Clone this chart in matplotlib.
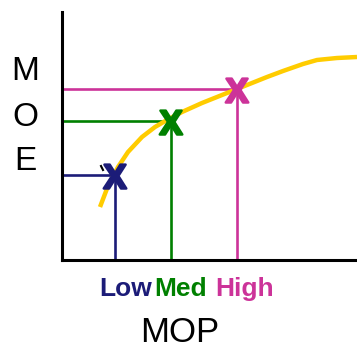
import matplotlib
matplotlib.use("Agg")
import matplotlib.pyplot as plt
import matplotlib.patheffects as pe

plt.rcParams['font.family'] = ['Liberation Sans', 'DejaVu Sans']

# data units ~ pixels from the axes origin
curve_x = [38, 46, 56, 66, 80, 93, 105, 120, 140, 160, 175, 190, 205, 221, 241, 255, 275, 295]
curve_y = [53, 74, 93, 108, 123, 133, 140, 148, 157, 165, 171, 177, 183, 189, 196, 200, 202, 203]

levels = ['Low', 'Med', 'High']
pt_x = [53, 109, 175]
pt_y = [85, 139, 171]
label_x = [64, 119, 183]
colors = ['#1c1c78', '#008000', '#cc3399']

fig = plt.figure(figsize=(3.57, 3.5), dpi=100)
ax = fig.add_axes([62 / 357, 90 / 350, 295 / 357, 248 / 350])
ax.set_xlim(0, 295)
ax.set_ylim(0, 248)

ax.plot(curve_x, curve_y, color='#ffcc00', lw=3.2, solid_capstyle='butt',
        solid_joinstyle='round', zorder=2)

for name, x, y, lx, c in zip(levels, pt_x, pt_y, label_x, colors):
    ax.plot([0, x], [y, y], color=c, lw=1.9, zorder=1)
    ax.plot([x, x], [0, y], color=c, lw=1.9, zorder=1)
    ax.text(x, y - 4, 'X', color=c, fontsize=25, fontweight='bold',
            ha='center', va='center', zorder=3,
            path_effects=[pe.withStroke(linewidth=1.8, foreground=c)])
    ax.text(lx, -29, name, color=c, fontsize=19, fontweight='bold',
            ha='center', va='center', clip_on=False)

# small stray mark next to the low point
ax.plot([39, 41], [94, 90], color='black', lw=1.5)

for s in ['top', 'right']:
    ax.spines[s].set_visible(False)
for s in ['left', 'bottom']:
    ax.spines[s].set_linewidth(2.2)
ax.set_xticks([])
ax.set_yticks([])

fig.text(180 / 357, 1 - 333 / 350, 'MOP', fontsize=25, ha='center', va='center')
for letter, yp in zip(['M', 'O', 'E'], [72, 117, 162]):
    fig.text(25 / 357, 1 - yp / 350, letter, fontsize=24, ha='center', va='center')

fig.savefig('out.png', dpi=100, facecolor='white')
